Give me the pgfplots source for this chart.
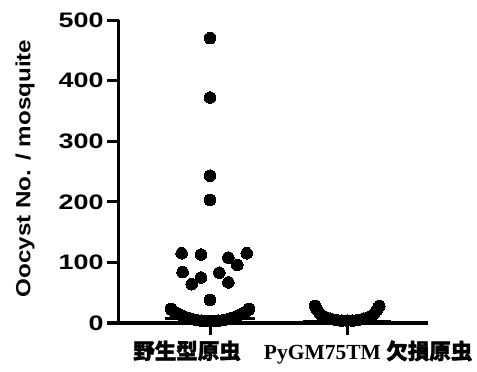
\documentclass[border=0pt]{standalone}
\usepackage{pgfplots}
\pgfplotsset{compat=1.18}
\usepackage{fontspec}
\setmainfont{Liberation Sans}
\newfontfamily\arialw[FakeStretch=1.18]{Liberation Sans}
\newfontfamily\arialt[FakeStretch=1.28]{Liberation Sans}
\newfontfamily\timesb{Liberation Serif}
\newfontfamily\cjk{Noto Sans CJK JP}[BoldFeatures={FakeBold=1.6}]

\pgfplotstableread{
x y
1.000 470
1.000 372
1.000 243
1.000 203
0.793 115
0.934 113
1.134 108
1.268 115
1.199 96
0.800 84
0.934 75
0.866 64
1.068 83
1.134 67
1.000 38
0.715 23
0.725 21
0.740 18
0.770 15
0.800 12
0.830 9
0.860 7
0.900 5
0.940 4
0.970 3
1.000 3
1.030 3
1.060 4
1.100 5
1.140 7
1.170 9
1.200 12
1.230 15
1.260 18
1.275 21
1.285 23
}\wt

\pgfplotstableread{
x y
1.765 28
1.780 22
1.800 16
1.820 12
1.850 9
1.880 7
1.920 5
1.960 4
2.000 4
2.040 4
2.080 5
2.120 7
2.150 9
2.180 12
2.200 16
2.220 22
2.235 28
}\mut

\begin{document}
\begin{tikzpicture}
\begin{axis}[
  at={(0,0)}, anchor=south west,
  scale only axis, width=309bp, height=303bp,
  xmin=0.336, xmax=2.59, ymin=0, ymax=500,
  axis lines=left,
  axis line style={-, line width=3bp, black},
  every tick/.style={line width=3bp, black},
  major tick length=12bp, tick align=outside,
  ytick={0,100,200,300,400,500},
  xtick={1,2},
  xticklabels={{\cjk\bfseries 野生型原虫\hspace*{46bp}},{\hspace*{42bp}\timesb\bfseries PyGM75TM \cjk\bfseries 欠損原虫}},
  /pgf/number format/assume math mode=true,
  yticklabel style={font=\arialt\bfseries\fontsize{21bp}{24bp}\selectfont},
  xticklabel style={font=\fontsize{21.5bp}{24bp}\selectfont, yshift=-2bp},
  ylabel={Oocyst No. / mosquite},
  every axis y label/.style={at={(axis description cs:0,0.51)}, xshift=-94bp, rotate=90, anchor=center,
     font=\arialw\bfseries\fontsize{20.5bp}{24bp}\selectfont},
  clip=false,
]
\addplot[black, line width=3bp] coordinates {(0.67,8) (1.33,8)};
\addplot[black, line width=3bp] coordinates {(1.68,2) (2.32,2)};
\addplot[only marks, mark=*, mark size=5.8bp, mark options={fill=black, draw=black, line width=0pt}] table[x=x,y=y] {\wt};
\addplot[only marks, mark=*, mark size=5.8bp, mark options={fill=black, draw=black, line width=0pt}] table[x=x,y=y] {\mut};
\end{axis}
\pgfresetboundingbox
\path (-119bp,-49bp) rectangle (358bp,323bp);
\end{tikzpicture}
\end{document}
